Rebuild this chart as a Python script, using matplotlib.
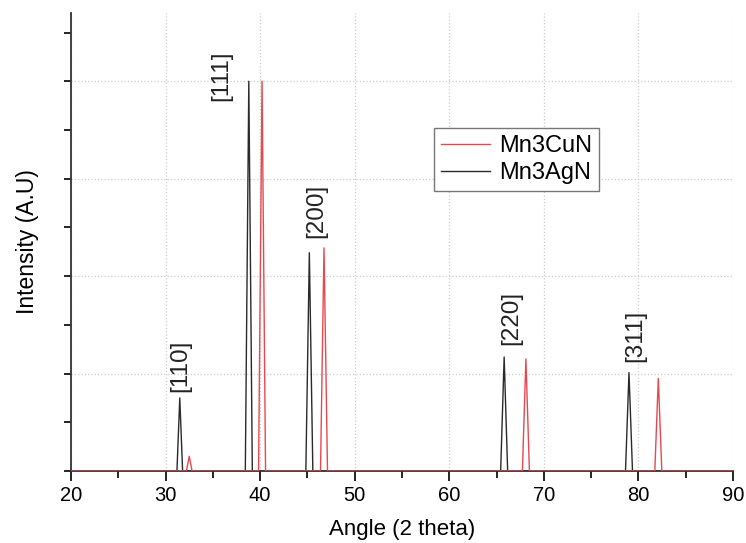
import matplotlib
matplotlib.use("Agg")
import matplotlib.pyplot as plt
from matplotlib.ticker import MultipleLocator

FONT = "Liberation Sans"

# Peak data (2theta in degrees, intensity in arbitrary units)
cun_pos = [32.5, 40.2, 46.75, 68.1, 82.1]
cun_int = [15, 400, 229, 115, 95]
agn_pos = [31.5, 38.8, 45.2, 65.8, 79.0]
agn_int = [75, 400, 224, 117, 101]
cun_half = [0.3, 0.37, 0.37, 0.37, 0.37]
agn_half = [0.3, 0.37, 0.37, 0.37, 0.37]

labels = ["[110]", "[111]", "[200]", "[220]", "[311]"]
label_x = [31.6, 35.9, 45.9, 66.6, 79.7]
label_y = [81, 380, 239, 129, 112]

x_ticks = [20, 30, 40, 50, 60, 70, 80, 90]


def profile(pos, inten, half):
    xs, ys = [20.0], [0.0]
    for p, h, w in zip(pos, inten, half):
        xs += [p - w, p, p + w]
        ys += [0.0, h, 0.0]
    xs.append(90.0)
    ys.append(0.0)
    return xs, ys


fig = plt.figure(figsize=(7.46, 5.43), dpi=100)
ax = fig.add_axes([0.0952, 0.1326, 0.8874, 0.8434])

xa, ya = profile(agn_pos, agn_int, agn_half)
xc, yc = profile(cun_pos, cun_int, cun_half)
l_cu, = ax.plot(xc, yc, color="#e8474f", lw=1.0, label="Mn3CuN", zorder=3)
l_ag, = ax.plot(xa, ya, color="#2a2a2a", lw=1.0, label="Mn3AgN", zorder=2)

ax.set_xlim(20, 90)
ax.set_ylim(0, 470)
ax.set_xticks(x_ticks)
ax.xaxis.set_minor_locator(MultipleLocator(5))
ax.yaxis.set_major_locator(MultipleLocator(100))
ax.yaxis.set_minor_locator(MultipleLocator(50))
ax.tick_params(axis="y", which="both", labelleft=False, length=5, width=1.2, direction="out")
ax.tick_params(axis="x", which="major", length=7, width=1.2, direction="out",
               labelsize=14.5, pad=4)
ax.tick_params(axis="x", which="minor", length=5, width=1.2, direction="out")
for lab in ax.get_xticklabels():
    lab.set_fontfamily(FONT)

ax.spines["top"].set_visible(False)
ax.spines["right"].set_visible(False)
for s in ("left", "bottom"):
    ax.spines[s].set_linewidth(1.3)
    ax.spines[s].set_color("#333333")

ax.grid(True, which="major", color="#cccccc", linestyle=":", linewidth=0.9)
ax.set_axisbelow(True)

ax.set_xlabel("Angle (2 theta)", fontsize=16, family=FONT, labelpad=10)
ax.set_ylabel("Intensity (A.U)", fontsize=16.5, family=FONT, labelpad=18)

for t, x, y in zip(labels, label_x, label_y):
    ax.text(x, y, t, rotation=90, ha="center", va="bottom", fontsize=17.5,
            family=FONT, color="#222222")

leg = ax.legend(handles=[l_cu, l_ag], loc="upper left", bbox_to_anchor=(0.548, 0.749),
                borderaxespad=0, prop={"family": FONT, "size": 17},
                frameon=True, fancybox=False, edgecolor="#777777", framealpha=1,
                handlelength=2.1, handletextpad=0.35, borderpad=0.3, labelspacing=0.2)
leg.get_frame().set_linewidth(1.0)

fig.savefig("out.png", dpi=100)
